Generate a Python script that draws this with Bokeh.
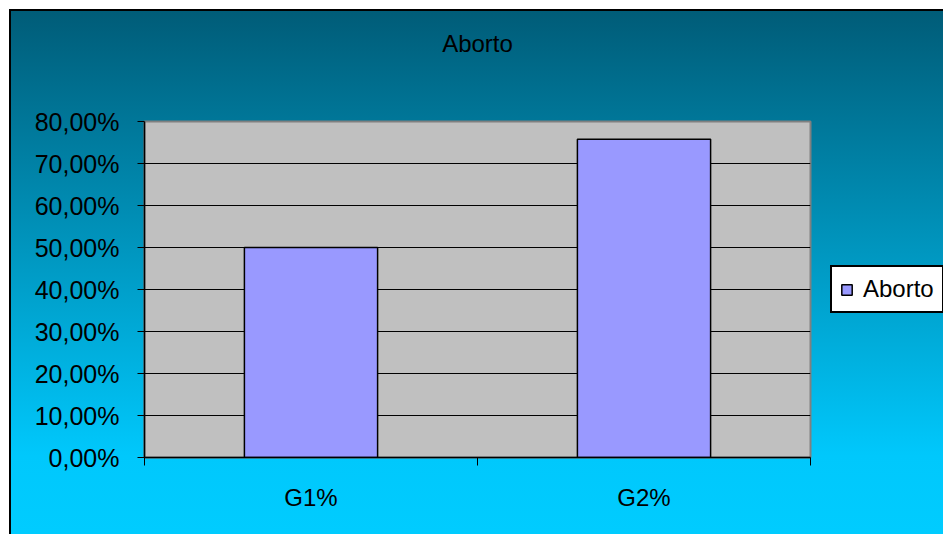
from bokeh.plotting import figure
from bokeh.models import FixedTicker, Legend, LegendItem, ColumnDataSource, Title
from bokeh.embed import file_html
from bokeh.resources import INLINE

# data
categories = ["G1%", "G2%"]
values = [0.50, 0.7576]
series_name = "Aborto"
y_ticks = [0.0, 0.1, 0.2, 0.3, 0.4, 0.5, 0.6, 0.7, 0.8]

FONT = "Liberation Sans"

x_pos = [i + 0.5 for i in range(len(categories))]
src = ColumnDataSource(dict(x=x_pos, top=values, cat=categories))

p = figure(
    title=None,
    frame_width=666, frame_height=336,
    x_range=(0, len(categories)), y_range=(0, 0.8),
    output_backend="svg", toolbar_location=None,
    min_border_left=133, min_border_right=133,
    min_border_top=110, min_border_bottom=77,
)
p.styles = {
    "margin-left": "9px",
    "margin-top": "9px",
    "border-left": "2px solid black",
    "border-top": "2px solid black",
    "background": "linear-gradient(to bottom, #005c78 0%, #00c8fc 85%, #00ccff 100%)",
}
p.border_fill_color = None
p.background_fill_color = "#c0c0c0"
p.outline_line_color = "#808080"
p.outline_line_width = 2

# blank spacer row between the frame and the title
p.add_layout(Title(text=" ", text_font=FONT, text_font_size="24px", standoff=31), "above")
# chart title
p.add_layout(Title(text=series_name, align="center", text_font=FONT,
                   text_font_size="24px", text_font_style="normal",
                   text_color="black", standoff=10), "above")

# grid
p.xgrid.visible = False
p.ygrid.ticker = FixedTicker(ticks=y_ticks)
p.ygrid.grid_line_color = "black"
p.ygrid.grid_line_width = 1

# bars
r = p.vbar(x="x", top="top", width=0.4, bottom=0, source=src,
           fill_color="#9999ff", line_color="black", line_width=1.5)

# y axis
yax = p.yaxis[0]
yax.ticker = FixedTicker(ticks=y_ticks)
yax.major_label_overrides = {v: f"{v * 100:.2f}%".replace(".", ",") for v in y_ticks}
yax.axis_line_color = "black"
yax.axis_line_width = 1.5
yax.major_tick_line_color = "black"
yax.major_tick_out = 7
yax.major_tick_in = 0
yax.minor_tick_line_color = None
yax.major_label_standoff = 18
yax.major_label_text_font = FONT
yax.major_label_text_font_size = "25px"
yax.major_label_text_color = "black"

# x axis: labels at category centres, ticks at category boundaries
xax = p.xaxis[0]
xax.ticker = FixedTicker(ticks=x_pos, minor_ticks=list(range(len(categories) + 1)))
xax.major_label_overrides = {x: c for x, c in zip(x_pos, categories)}
xax.axis_line_color = "black"
xax.axis_line_width = 1.5
xax.major_tick_line_color = None
xax.major_tick_out = 0
xax.major_tick_in = 0
xax.minor_tick_line_color = "black"
xax.minor_tick_out = 8
xax.minor_tick_in = 0
xax.major_label_standoff = 18
xax.major_label_text_font = FONT
xax.major_label_text_font_size = "24px"
xax.major_label_text_color = "black"

# legend in the right-hand panel
legend = Legend(
    items=[LegendItem(label=series_name, renderers=[r])],
    location="center_left",
    background_fill_color="white", background_fill_alpha=1.0,
    border_line_color="black", border_line_width=2, border_line_alpha=1.0,
    glyph_width=13, glyph_height=13,
    label_text_font=FONT, label_text_font_size="24px", label_text_color="black",
    label_standoff=10, padding=8, margin=20,
)
p.add_layout(legend, "right")

open("out.html", "w").write(file_html(p, INLINE))
